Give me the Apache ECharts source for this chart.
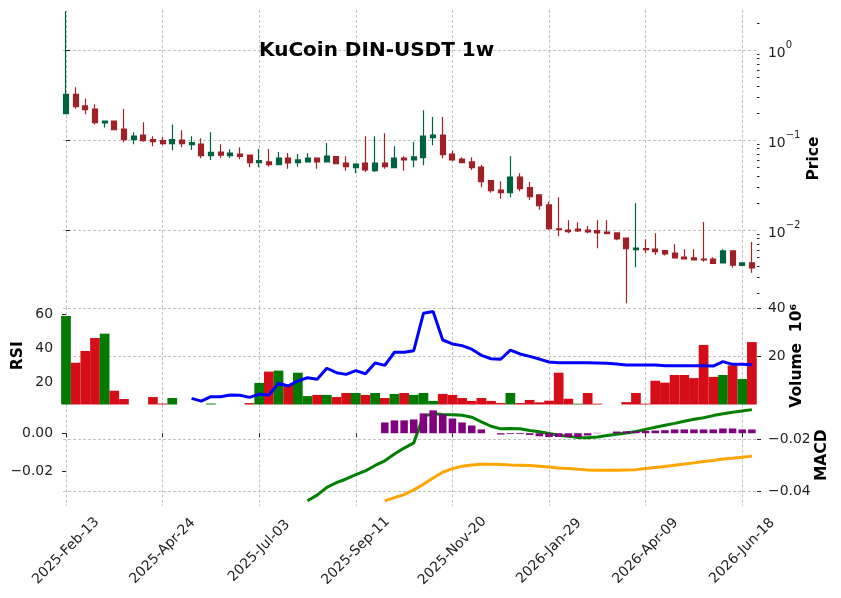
<!DOCTYPE html>
<html>
<head>
<meta charset="utf-8">
<script src="https://cdn.jsdelivr.net/npm/echarts@6/dist/echarts.min.js"></script>
<style>
  html, body { margin: 0; padding: 0; background: #fff; }
  #chart { width: 841px; height: 598px; }
</style>
</head>
<body>
<div id="chart"></div>
<script>
// weekly candles, index 0 = 2025-02-13
const opens = [0.196, 0.322, 0.239, 0.221, 0.1545, 0.1626, 0.1325, 0.1008, 0.1137, 0.101,
  0.0983, 0.091, 0.1, 0.0887, 0.0903, 0.067, 0.0736, 0.067, 0.0699, 0.068,
  0.056, 0.057, 0.0532, 0.063, 0.056, 0.057, 0.063, 0.057, 0.0653, 0.0555,
  0.0493, 0.0555, 0.0456, 0.0555, 0.0493, 0.063, 0.06, 0.0636, 0.106, 0.1137,
  0.0699, 0.0615, 0.057, 0.0501, 0.0353, 0.0278, 0.026, 0.0388, 0.0295, 0.0245,
  0.019, 0.0103, 0.01, 0.01026, 0.01, 0.00984, 0.0095, 0.00927, 0.00815, 0.00604,
  0.0062, 0.00615, 0.00589, 0.00555, 0.00501, 0.00489, 0.00476, 0.00476, 0.0043, 0.00585,
  0.00405, 0.0043];
const closes = [0.322, 0.234, 0.217, 0.156, 0.1626, 0.13, 0.1008, 0.1108, 0.0983, 0.0958,
  0.091, 0.1008, 0.091, 0.0933, 0.067, 0.073, 0.068, 0.0717, 0.0659, 0.056,
  0.0589, 0.0532, 0.063, 0.0555, 0.06, 0.063, 0.057, 0.0664, 0.0545, 0.0505,
  0.0541, 0.0464, 0.0555, 0.0505, 0.063, 0.06, 0.0648, 0.1108, 0.1137, 0.0687,
  0.06, 0.056, 0.0493, 0.0344, 0.0273, 0.026, 0.0388, 0.0288, 0.0234, 0.0186,
  0.01035, 0.01008, 0.00958, 0.00975, 0.0095, 0.00927, 0.0091, 0.00794, 0.0062, 0.00631,
  0.00604, 0.00574, 0.00541, 0.00489, 0.00476, 0.00464, 0.00464, 0.00426, 0.00585, 0.00408,
  0.0043, 0.00378];
const lows = [0.195, 0.223, 0.193, 0.149, 0.138, 0.13, 0.0943, 0.0896, 0.0958, 0.0851,
  0.0873, 0.0768, 0.083, 0.0774, 0.0626, 0.06, 0.063, 0.063, 0.061, 0.0497,
  0.0497, 0.0505, 0.0532, 0.048, 0.0505, 0.056, 0.048, 0.0565, 0.054, 0.0456,
  0.0427, 0.044, 0.044, 0.048, 0.049, 0.0456, 0.0497, 0.0524, 0.0873, 0.0626,
  0.058, 0.0555, 0.0464, 0.0298, 0.026, 0.0223, 0.0231, 0.0269, 0.0216, 0.0168,
  0.01, 0.0085, 0.00919, 0.0095, 0.0092, 0.00626, 0.009, 0.00769, 0.00153, 0.00385,
  0.00551, 0.00527, 0.0052, 0.00485, 0.0047, 0.0046, 0.00444, 0.0042, 0.0043, 0.00381,
  0.00405, 0.00335];
const highs = [2.7, 0.385, 0.29, 0.249, 0.163, 0.1626, 0.221, 0.122, 0.157, 0.11,
  0.108, 0.149, 0.128, 0.11, 0.1044, 0.122, 0.0896, 0.0788, 0.083, 0.069,
  0.0794, 0.0794, 0.0736, 0.0717, 0.0699, 0.0717, 0.063, 0.0926, 0.066, 0.0659,
  0.055, 0.11, 0.11, 0.1187, 0.0851, 0.066, 0.095, 0.214, 0.18, 0.18,
  0.076, 0.0642, 0.0642, 0.0527, 0.036, 0.0348, 0.0659, 0.0427, 0.0341, 0.0245,
  0.0206, 0.0231, 0.0128, 0.0122, 0.0111, 0.0128, 0.0128, 0.0093, 0.00815, 0.0198,
  0.00788, 0.00919, 0.006, 0.00693, 0.00611, 0.00611, 0.0123, 0.00498, 0.00611, 0.0059,
  0.0043, 0.00736];

// volume in millions, and its bar colour (1 = up, 0 = down)
const volumes = [36.9, 17.4, 22.3, 27.7, 29.5, 5.75, 2.3, 0, 0, 3.1,
  0.4, 2.7, 0, 0, 0, 0.4, 0, 0, 0, 0.6,
  9.0, 13.7, 14.1, 8.1, 13.25, 3.5, 4.0, 4.0, 3.1, 4.8,
  4.8, 4.0, 4.8, 2.7, 4.4, 4.8, 4.0, 4.8, 1.5, 4.4,
  4.0, 2.7, 1.5, 2.7, 1.5, 0.6, 4.8, 0.6, 1.9, 0.9,
  1.6, 13.25, 2.4, 0.35, 4.8, 0.35, 0, 0, 1.0, 4.8,
  0.35, 9.9, 9.1, 12.3, 12.3, 11.0, 24.8, 11.5, 12.3, 16.3,
  10.6, 26.0];
const volumeUp = [1, 0, 0, 0, 1, 0, 0, 1, 0, 0,
  0, 1, 0, 1, 0, 1, 0, 1, 0, 0,
  1, 0, 1, 0, 1, 1, 0, 1, 0, 0,
  1, 0, 1, 0, 1, 0, 1, 1, 1, 0,
  0, 0, 0, 0, 0, 0, 1, 0, 0, 0,
  0, 0, 0, 1, 0, 0, 0, 0, 0, 0,
  0, 0, 0, 0, 0, 0, 0, 0, 1, 0,
  1, 0];

const rsi = [null, null, null, null, null, null, null, null, null, null,
  null, null, null, 10.5, 8.9, 11.5, 11.5, 12.5, 12.3, 11.1,
  12.9, 12.5, 19.4, 17.8, 20.7, 22.6, 21.7, 28.2, 25.6, 24.6,
  26.8, 25.0, 31.3, 29.9, 37.6, 37.6, 38.5, 60.5, 61.5, 44.8,
  42.5, 41.5, 39.4, 35.8, 33.8, 33.5, 38.9, 36.6, 35.2, 33.6,
  31.9, 31.5, 31.5, 31.5, 31.5, 31.3, 31.1, 30.7, 30.1, 30.1,
  30.1, 30.1, 29.7, 29.7, 29.7, 29.7, 29.7, 29.5, 32.1, 30.5,
  30.5, 30.3];

const macd = [null, null, null, null, null, null, null, null, null, null,
  null, null, null, null, null, null, null, null, null, null,
  null, null, null, null, null, -0.0438, -0.0416, -0.0386, -0.0368, -0.0354,
  -0.0337, -0.0323, -0.0302, -0.0284, -0.0258, -0.0235, -0.0215, -0.0112, -0.0103, -0.0106,
  -0.0107, -0.0109, -0.0116, -0.0134, -0.0151, -0.0161, -0.016, -0.0161, -0.0167, -0.0172,
  -0.0179, -0.0186, -0.019, -0.0194, -0.0195, -0.0192, -0.0187, -0.0182, -0.0177, -0.0171,
  -0.0163, -0.0155, -0.0147, -0.014, -0.0132, -0.0124, -0.0118, -0.011, -0.0103, -0.0097,
  -0.0092, -0.0087];
const signal = [null, null, null, null, null, null, null, null, null, null,
  null, null, null, null, null, null, null, null, null, null,
  null, null, null, null, null, null, null, null, null, null,
  null, null, null, -0.0438, -0.0426, -0.0414, -0.0396, -0.0374, -0.035, -0.0328,
  -0.0314, -0.0305, -0.03, -0.0297, -0.0297, -0.0298, -0.03, -0.0301, -0.0302, -0.0305,
  -0.0308, -0.0312, -0.0314, -0.0317, -0.0319, -0.032, -0.032, -0.032, -0.0319, -0.0318,
  -0.0314, -0.031, -0.0306, -0.0301, -0.0296, -0.0292, -0.0287, -0.0283, -0.0277, -0.0274,
  -0.027, -0.0266];
const hist = [null, null, null, null, null, null, null, null, null, null,
  null, null, null, null, null, null, null, null, null, null,
  null, null, null, null, null, null, null, null, null, null,
  null, null, null, 0.0057, 0.0068, 0.0068, 0.0073, 0.0105, 0.0121, 0.01,
  0.0078, 0.0057, 0.0041, 0.002, null, -0.0007, -0.0004, -0.0004, -0.0009, -0.0016,
  -0.002, -0.002, -0.002, -0.002, -0.0012, 0.0002, null, 0.0009, 0.001, 0.0011,
  0.0012, 0.0014, 0.0016, 0.002, 0.002, 0.002, 0.002, 0.002, 0.0025, 0.0025,
  0.002, 0.002];

const dateTicks = [0, 10, 20, 30, 40, 50, 60, 70];
const dateLabels = ['2025-Feb-13', '2025-Apr-24', '2025-Jul-03', '2025-Sep-11',
  '2025-Nov-20', '2026-Jan-29', '2026-Apr-09', '2026-Jun-18'];
const priceTicks = [0.01, 0.1, 1];
const priceMinorTicks = [0.002, 0.003, 0.004, 0.005, 0.006, 0.007, 0.008, 0.009,
  0.02, 0.03, 0.04, 0.05, 0.06, 0.07, 0.08, 0.09,
  0.2, 0.3, 0.4, 0.5, 0.6, 0.7, 0.8, 0.9, 2];
const rsiTicks = [20, 40, 60];
const volumeTicks = [20, 40];
const histTicks = [-0.02, 0];
const macdTicks = [-0.04, -0.02];

const FONT = 'DejaVu Sans';
const X_MIN = -0.31, X_MAX = 71.53;
const gridLine = { show: true, lineStyle: { color: '#b4b4b4', width: 0.8, type: [3, 2] } };
const tickStyle = { color: '#222', width: 1 };
const labelStyle = { color: '#222', fontSize: 13.9, fontFamily: FONT };
const nameStyle = { color: '#000', fontSize: 15.5, fontWeight: 'bold', fontFamily: FONT };
const minus = s => s.replace('-', '\u2212');

function xAxis(gridIndex, bottom) {
  return {
    type: 'value', gridIndex, min: X_MIN, max: X_MAX,
    axisLine: { show: false },
    axisTick: { show: bottom, customValues: dateTicks, length: 4, lineStyle: tickStyle },
    axisLabel: {
      show: bottom, customValues: dateTicks, rotate: 45, align: 'center', verticalAlign: 'middle',
      margin: 45, ...labelStyle,
      formatter: v => dateLabels[dateTicks.indexOf(v)]
    },
    splitLine: gridLine
  };
}

function yName(name, gap) {
  return {
    name, nameLocation: 'middle', nameGap: gap, nameMoveOverlap: false, nameTextStyle: nameStyle
  };
}

const candleData = opens.map((o, i) => [i, o, closes[i], lows[i], highs[i]]);
const volumeData = volumes.map((v, i) => ({
  value: [i, v],
  itemStyle: { color: volumeUp[i] ? '#007a00' : '#d50d18' }
}));
const pairs = arr => arr.map((v, i) => [i, v]).filter(p => p[1] !== null);

const chart = echarts.init(document.getElementById('chart'));
chart.setOption({
  animation: false,
  backgroundColor: '#fff',
  title: {
    text: 'KuCoin DIN-USDT 1w', left: 254, top: 36,
    textStyle: { fontFamily: FONT, fontWeight: 'bold', fontSize: 20, color: '#000' }
  },
  grid: [
    { left: 63, right: 84, top: 10, height: 297 },
    { left: 63, right: 84, top: 307, height: 97.5 },
    { left: 63, right: 84, top: 404.5, height: 101.5 }
  ],
  xAxis: [xAxis(0, false), xAxis(1, false), xAxis(2, true)],
  yAxis: [
    { // price, major ticks
      type: 'log', gridIndex: 0, position: 'right', min: 0.001394, max: 2.783,
      axisLine: { show: false },
      axisTick: { customValues: priceTicks, length: 4, lineStyle: tickStyle },
      axisLabel: {
        customValues: priceTicks, margin: 11, ...labelStyle,
        formatter: v => {
          const e = Math.round(Math.log10(v));
          return '{b|10}{s|' + minus(String(e)) + '}';
        },
        rich: {
          b: { fontSize: 13.9, fontFamily: FONT, color: '#222', lineHeight: 20, padding: [6, 0, 0, 0] },
          s: { fontSize: 10, fontFamily: FONT, color: '#222', verticalAlign: 'top', lineHeight: 12 }
        }
      },
      splitLine: gridLine,
      ...yName('Price', 49)
    },
    { // price, minor ticks
      type: 'log', gridIndex: 0, position: 'right', min: 0.001394, max: 2.783,
      axisLine: { show: false },
      axisTick: { customValues: priceMinorTicks, length: 2.5, lineStyle: tickStyle },
      axisLabel: { show: false },
      splitLine: { show: false }
    },
    { // RSI
      type: 'value', gridIndex: 1, position: 'left', min: 6.9, max: 64.2,
      axisLine: { show: false },
      axisTick: { customValues: rsiTicks, length: 4, lineStyle: tickStyle },
      axisLabel: { customValues: rsiTicks, margin: 10, ...labelStyle },
      splitLine: { show: false },
      ...yName('RSI', 37)
    },
    { // volume
      type: 'value', gridIndex: 1, position: 'right', min: 0, max: 40.6,
      axisLine: { show: false },
      axisTick: { customValues: volumeTicks, length: 4, lineStyle: tickStyle },
      axisLabel: { customValues: volumeTicks, margin: 11, ...labelStyle },
      splitLine: gridLine,
      ...yName('Volume  10\u2076', 32)
    },
    { // MACD histogram
      type: 'value', gridIndex: 2, position: 'left', min: -0.0385, max: 0.0152,
      axisLine: { show: false },
      axisTick: { customValues: histTicks, length: 4, lineStyle: tickStyle },
      axisLabel: { customValues: histTicks, margin: 10, ...labelStyle, formatter: v => minus(v.toFixed(2)) },
      splitLine: { show: false }
    },
    { // MACD / signal
      type: 'value', gridIndex: 2, position: 'right', min: -0.0458, max: -0.00673,
      axisLine: { show: false },
      axisTick: { customValues: macdTicks, length: 4, lineStyle: tickStyle },
      axisLabel: { customValues: macdTicks, margin: 11, ...labelStyle, formatter: v => minus(v.toFixed(2)) },
      splitLine: gridLine,
      ...yName('MACD', 57)
    }
  ],
  series: [
    {
      type: 'candlestick', xAxisIndex: 0, yAxisIndex: 0,
      data: candleData, encode: { x: 0, y: [1, 2, 3, 4] },
      barWidth: 5.5,
      itemStyle: {
        color: '#006340', color0: '#a02128',
        borderColor: '#006340', borderColor0: '#a02128', borderWidth: 1.2
      }
    },
    {
      type: 'bar', xAxisIndex: 1, yAxisIndex: 3, data: volumeData,
      barWidth: 9.7, z: 2
    },
    {
      type: 'line', xAxisIndex: 1, yAxisIndex: 2, data: pairs(rsi),
      showSymbol: false, lineStyle: { color: '#0000ff', width: 3 }, z: 4
    },
    {
      type: 'line', xAxisIndex: 2, yAxisIndex: 5, data: pairs(macd),
      showSymbol: false, lineStyle: { color: '#008000', width: 3 }, z: 2
    },
    {
      type: 'line', xAxisIndex: 2, yAxisIndex: 5, data: pairs(signal),
      showSymbol: false, lineStyle: { color: '#ffa500', width: 3 }, z: 2
    },
    {
      type: 'bar', xAxisIndex: 2, yAxisIndex: 4, data: pairs(hist),
      barWidth: 7.5, itemStyle: { color: '#800080' }, z: 4
    }
  ]
});
</script>
</body>
</html>
